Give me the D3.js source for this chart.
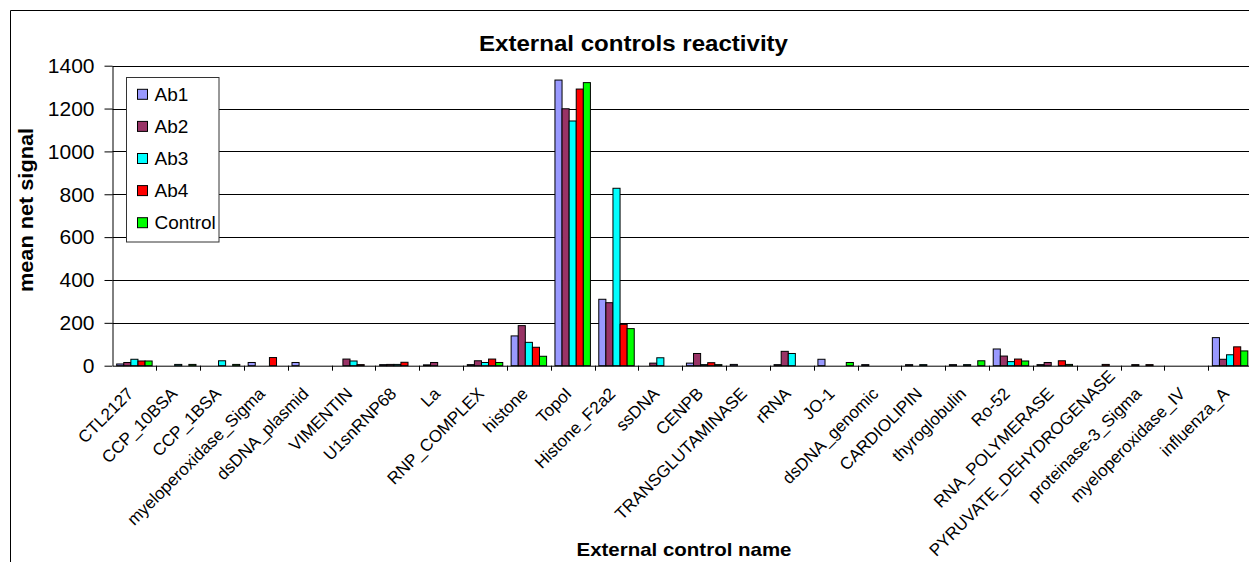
<!DOCTYPE html>
<html>
<head>
<meta charset="utf-8">
<script src="https://cdn.jsdelivr.net/npm/d3@7/dist/d3.min.js"></script>
<style>
  html, body { margin: 0; padding: 0; background: #fff; }
  svg { display: block; font-family: Arial, "Liberation Sans", sans-serif; }
</style>
</head>
<body>
<svg id="chart" width="1249" height="562"></svg>
<script>
const categories = ["CTL2127", "CCP_10BSA", "CCP_1BSA", "myeloperoxidase_Sigma", "dsDNA_plasmid",
  "VIMENTIN", "U1snRNP68", "La", "RNP_COMPLEX", "histone", "TopoI", "Histone_F2a2", "ssDNA",
  "CENPB", "TRANSGLUTAMINASE", "rRNA", "JO-1", "dsDNA_genomic", "CARDIOLIPIN", "thyroglobulin",
  "Ro-52", "RNA_POLYMERASE", "PYRUVATE_DEHYDROGENASE", "proteinase-3_Sigma", "myeloperoxidase_IV",
  "influenza_A"];
const seriesNames = ["Ab1", "Ab2", "Ab3", "Ab4", "Control"];
const ab1 =     [8, 0, 0, 15, 15, 0, 5, 4, 5, 139, 1333, 310, 0, 12, 6, 5, 30, 5, 5, 5, 78, 5, 0, 0, 0, 131];
const ab2 =     [15, 0, 0, 0, 0, 31, 6, 15, 23, 187, 1199, 294, 12, 57, 0, 67, 0, 0, 0, 0, 45, 15, 0, 5, 0, 30];
const ab3 =     [30, 6, 23, 0, 0, 22, 6, 0, 15, 109, 1142, 828, 37, 5, 0, 57, 0, 0, 5, 5, 19, 0, 0, 0, 0, 51];
const ab4 =     [22, 0, 0, 38, 0, 5, 16, 0, 31, 86, 1291, 193, 0, 14, 0, 0, 0, 0, 0, 0, 31, 23, 6, 5, 0, 88];
const control = [22, 6, 6, 0, 0, 0, 0, 0, 15, 44, 1321, 173, 0, 5, 0, 0, 15, 0, 0, 23, 22, 6, 0, 0, 0, 69];
const yTicks = [0, 200, 400, 600, 800, 1000, 1200, 1400];
const colors = ["#9999FF", "#993366", "#00FFFF", "#FF0000", "#00FF00"];

const seriesValues = [ab1, ab2, ab3, ab4, control];

const svg = d3.select("#chart");
const mLeft = 112.5, mRight = 1252, mTop = 65.7, mBottom = 365.7;

// chart area border (top & left visible)
svg.append("line").attr("x1", 10.5).attr("x2", 1249).attr("y1", 10.5).attr("y2", 10.5)
  .attr("stroke", "#000").attr("stroke-width", 1);
svg.append("line").attr("x1", 10.5).attr("x2", 10.5).attr("y1", 10.5).attr("y2", 562)
  .attr("stroke", "#000").attr("stroke-width", 1);

const x = d3.scaleBand().domain(categories).range([mLeft, mRight]).paddingInner(0).paddingOuter(0);
const xs = d3.scaleBand().domain(seriesNames).range([0, x.bandwidth()]).paddingInner(0).paddingOuter(0.59);
const y = d3.scaleLinear().domain([0, 1400]).range([mBottom, mTop]);

// gridlines
svg.append("g").selectAll("line").data(yTicks.filter(d => d > 0)).join("line")
  .attr("x1", mLeft).attr("x2", mRight)
  .attr("y1", d => Math.round(y(d)) + 0.5).attr("y2", d => Math.round(y(d)) + 0.5)
  .attr("stroke", "#000").attr("stroke-width", 1);

// bars
const groups = svg.append("g").selectAll("g").data(seriesNames).join("g")
  .attr("fill", (d, i) => colors[i]);
groups.selectAll("rect").data((s, i) => seriesValues[i].map((v, j) => ({ s, v, c: categories[j] })))
  .join("rect")
  .attr("x", d => x(d.c) + xs(d.s))
  .attr("width", xs.bandwidth())
  .attr("y", d => y(d.v))
  .attr("height", d => y(0) - y(d.v))
  .attr("stroke", "#000").attr("stroke-width", 1)
  .attr("display", d => d.v > 0 ? null : "none");

// y axis
const yAxis = d3.axisLeft(y).tickValues(yTicks).tickSize(8).tickSizeOuter(0).tickPadding(10)
  .tickFormat(d3.format("d"));
const yg = svg.append("g").attr("transform", `translate(${mLeft},0)`).call(yAxis);
yg.select(".domain").attr("stroke", "#000");
yg.selectAll(".tick line").attr("stroke", "#000");
yg.selectAll("text").attr("font-size", "21px").attr("font-family", "Arial, 'Liberation Sans', sans-serif")
  .attr("fill", "#000");

// x axis
const xAxis = d3.axisBottom(x).tickSize(0).tickSizeOuter(0).tickFormat(d => d);
const xg = svg.append("g").attr("transform", `translate(0,${mBottom})`).call(xAxis);
xg.select(".domain").attr("stroke", "#000");
xg.selectAll(".tick text")
  .attr("font-size", "17px").attr("font-family", "Arial, 'Liberation Sans', sans-serif").attr("fill", "#000")
  .attr("text-anchor", "end")
  .attr("dy", null)
  .attr("y", 0).attr("x", 0)
  .attr("transform", "translate(0, 29) rotate(-45)");
// keep long labels inside the chart: slide them along their baseline
xg.selectAll(".tick text").each(function () {
  const r = this.getBoundingClientRect();
  const over = r.bottom - 560;
  if (over > 0) d3.select(this).attr("x", over / Math.SQRT1_2);
});
// category boundary ticks
const bounds = categories.slice(1).map(c => x(c));
svg.append("g").selectAll("line").data(bounds).join("line")
  .attr("x1", d => Math.round(d) + 0.5).attr("x2", d => Math.round(d) + 0.5)
  .attr("y1", mBottom).attr("y2", mBottom + 5)
  .attr("stroke", "#000");

// legend
const lg = svg.append("g");
lg.append("rect").attr("x", 126.5).attr("y", 77.5).attr("width", 92.5).attr("height", 164.5)
  .attr("fill", "#fff").attr("stroke", "#333").attr("stroke-width", 1);
const items = lg.selectAll("g").data(seriesNames).join("g")
  .attr("transform", (d, i) => `translate(137.5, ${94.3 + i * 32.1})`);
items.append("rect").attr("x", 0).attr("y", -5).attr("width", 10).attr("height", 10)
  .attr("fill", (d, i) => colors[i]).attr("stroke", "#000");
items.append("text").attr("x", 17).attr("y", 0).attr("dy", "0.35em")
  .attr("font-size", "19px").attr("fill", "#000").text(d => d);

// title
svg.append("text").attr("x", 633.5).attr("y", 51).attr("text-anchor", "middle")
  .attr("font-size", "22px").attr("font-weight", "bold").attr("fill", "#000")
  .attr("textLength", 309).attr("lengthAdjust", "spacingAndGlyphs")
  .text("External controls reactivity");

// axis titles
svg.append("text").attr("x", 684).attr("y", 556).attr("text-anchor", "middle")
  .attr("font-size", "18.5px").attr("font-weight", "bold").attr("fill", "#000")
  .attr("textLength", 215).attr("lengthAdjust", "spacingAndGlyphs")
  .text("External control name");
svg.append("text").attr("transform", `translate(33, 210) rotate(-90)`)
  .attr("text-anchor", "middle")
  .attr("font-size", "20.5px").attr("font-weight", "bold").attr("fill", "#000")
  .attr("textLength", 164).attr("lengthAdjust", "spacingAndGlyphs")
  .text("mean net signal");
</script>
</body>
</html>
